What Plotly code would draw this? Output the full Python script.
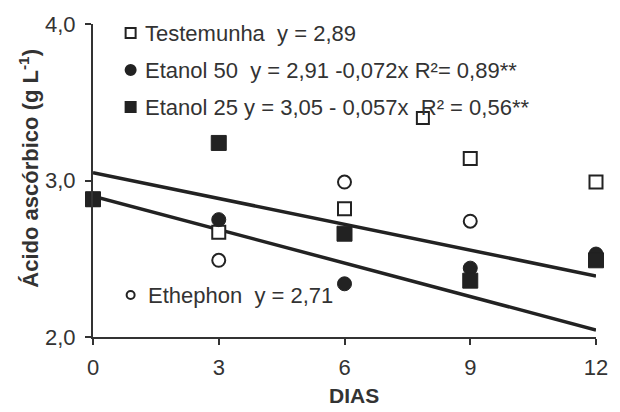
import plotly.graph_objects as go

# ---- data ----
days = [0, 3, 6, 9, 12]
testemunha = [2.88, 2.67, 2.82, 3.14, 2.99]
etanol50 = [2.88, 2.75, 2.34, 2.44, 2.53]
etanol25 = [2.88, 3.24, 2.66, 2.36, 2.49]
ethephon = [2.88, 2.49, 2.99, 2.74, 2.52]
extra_day = [7.87]
extra_testemunha = [3.40]
trend_days = [0, 12]
trend_etanol25 = [3.05, 2.39]
trend_etanol50 = [2.90, 2.045]
x_ticks = [0, 3, 6, 9, 12]
y_ticks = [2, 3, 4]
y_tick_labels = ["2,0", "3,0", "4,0"]

NB = "\u00a0"
name_test = f"Testemunha{NB}{NB}y = 2,89"
name_e50 = f"Etanol 50{NB}{NB}y = 2,91 -0,072x R²= 0,89**"
name_e25 = f"Etanol 25 y = 3,05 - 0,057x{NB}{NB}R² = 0,56**"
name_eth = f"Ethephon{NB}{NB}y = 2,71"

INK = "#222222"
TXT = "#333333"
FONT = "Liberation Sans, Arial, sans-serif"

# plot area in pixels
W, H = 620, 412
ML, MR, MT, MB = 93, 19, 24, 75
PW, PH = W - ML - MR, H - MT - MB


def px(xp):
    return (xp - ML) / PW


def py(yp):
    return (H - MB - yp) / PH


fig = go.Figure()

# regression lines
for ty in (trend_etanol25, trend_etanol50):
    fig.add_trace(go.Scatter(x=trend_days, y=ty, mode="lines",
                             line=dict(color=INK, width=3.5), showlegend=False,
                             cliponaxis=False, hoverinfo="skip"))

# data markers
fig.add_trace(go.Scatter(x=days, y=ethephon, mode="markers", name=name_eth, showlegend=False,
                         marker=dict(symbol="circle", size=13, color="white",
                                     line=dict(color=INK, width=2)),
                         cliponaxis=False))
fig.add_trace(go.Scatter(x=days, y=testemunha, mode="markers", name=name_test, showlegend=False,
                         marker=dict(symbol="square", size=13, color="white",
                                     line=dict(color=INK, width=2)),
                         cliponaxis=False))
fig.add_trace(go.Scatter(x=extra_day, y=extra_testemunha, mode="markers", showlegend=False,
                         marker=dict(symbol="square", size=12, color="white",
                                     line=dict(color=INK, width=2)),
                         cliponaxis=False))
fig.add_trace(go.Scatter(x=days, y=etanol50, mode="markers", name=name_e50, showlegend=False,
                         marker=dict(symbol="circle", size=14, color=INK,
                                     line=dict(color=INK, width=1)),
                         cliponaxis=False))
fig.add_trace(go.Scatter(x=days, y=etanol25, mode="markers", name=name_e25, showlegend=False,
                         marker=dict(symbol="square", size=15, color=INK,
                                     line=dict(color=INK, width=1)),
                         cliponaxis=False))

# legend drawn as swatches + text
legend_rows = [
    (name_test, "rect", "white", 131, 33, 143, 10),
    (name_e50, "circle", INK, 131, 70, 143, 10),
    (name_e25, "rect", INK, 131, 107, 143, 10),
    (name_eth, "circle", "white", 131, 295, 147, 8),
]
shapes = []
annotations = []
for text, kind, fill, mx, my, tx, s in legend_rows:
    shapes.append(dict(type=kind, xref="paper", yref="paper",
                       xsizemode="pixel", ysizemode="pixel",
                       xanchor=px(mx), yanchor=py(my),
                       x0=-s / 2, x1=s / 2, y0=-s / 2, y1=s / 2,
                       fillcolor=fill, line=dict(color=INK, width=2)))
    annotations.append(dict(text=text, xref="paper", yref="paper",
                            x=px(tx), y=py(my), xanchor="left", yanchor="middle",
                            showarrow=False,
                            font=dict(family=FONT, size=22, color=TXT)))

# axis titles
annotations.append(dict(text="<b>Ácido ascórbico (g L<sup>-1</sup>)</b>",
                        xref="paper", yref="paper", x=px(28), y=py(168),
                        xanchor="center", yanchor="middle", textangle=-90,
                        showarrow=False, font=dict(family=FONT, size=22, color=TXT)))
annotations.append(dict(text="<b>DIAS</b>", xref="paper", yref="paper",
                        x=px(357), y=py(395), xanchor="center", yanchor="middle",
                        showarrow=False, font=dict(family=FONT, size=21, color=TXT)))

axis_common = dict(showline=True, linecolor="#333333", linewidth=2,
                   ticks="outside", ticklen=6, tickwidth=2, tickcolor="#333333",
                   showgrid=False, zeroline=False,
                   tickfont=dict(family=FONT, size=22, color=TXT))

fig.update_layout(
    width=W, height=H,
    margin=dict(l=ML, r=MR, t=MT, b=MB),
    paper_bgcolor="white", plot_bgcolor="white",
    font=dict(family=FONT, color=TXT),
    showlegend=False,
    xaxis=dict(range=[0, 12], tickvals=x_ticks, ticktext=[str(v) for v in x_ticks],
               ticklabelstandoff=4, **axis_common),
    yaxis=dict(range=[2, 4], tickvals=y_ticks, ticktext=y_tick_labels,
               ticklabelstandoff=5, **axis_common),
    shapes=shapes,
    annotations=annotations,
)

fig.write_html("out.html",
               config={"displayModeBar": False},
               post_script="document.body.style.margin='0px';"
                           "document.body.style.overflow='hidden';")
